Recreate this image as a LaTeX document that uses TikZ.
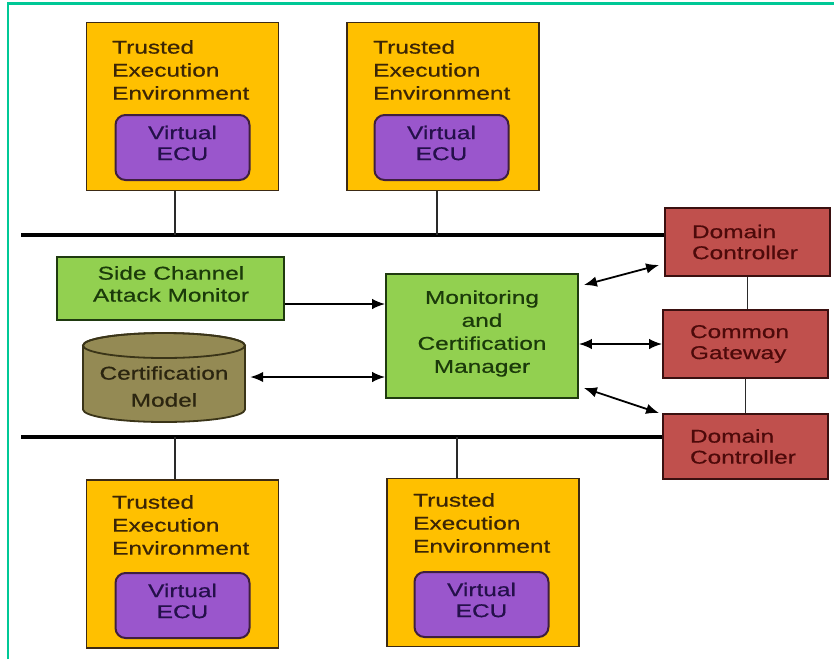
\documentclass[tikz,border=0pt]{standalone}
\usepackage{fontspec}
\setmainfont{Liberation Sans}[FakeStretch=1.32,FakeBold=0.6]
\usetikzlibrary{arrows.meta,calc}
\definecolor{teeFill}{HTML}{FFC000}
\definecolor{teeLine}{HTML}{3C2A14}
\definecolor{teeText}{HTML}{3B2506}
\definecolor{vFill}{HTML}{9A56CC}
\definecolor{vLine}{HTML}{3F1F3F}
\definecolor{vText}{HTML}{24104A}
\definecolor{gFill}{HTML}{92D050}
\definecolor{gLine}{HTML}{1F3A0F}
\definecolor{gText}{HTML}{1B3A0A}
\definecolor{rFill}{HTML}{C0504D}
\definecolor{rLine}{HTML}{3A1010}
\definecolor{rText}{HTML}{4D0A0A}
\definecolor{cFill}{HTML}{948A54}
\definecolor{cLine}{HTML}{3A3418}
\definecolor{cText}{HTML}{2B2510}
\definecolor{frameTeal}{HTML}{00C896}
\definecolor{linkGray}{HTML}{2A2A2A}
\begin{document}
\begin{tikzpicture}[x=1pt,y=-1pt,
  txt/.style={font=\fontsize{18.5}{23}\selectfont, inner sep=0pt},
  teebox/.style={draw=teeLine, fill=teeFill, line width=1.8pt, inner sep=0pt, minimum width=192pt, minimum height=168pt},
  vecu/.style={draw=vLine, fill=vFill, line width=2pt, rounded corners=10pt, inner sep=0pt, minimum width=134pt, minimum height=65pt},
  teetext/.style={txt, text=teeText, align=left, anchor=north west},
  vtext/.style={txt, font=\fontsize{18.5}{21}\selectfont, text=vText, align=center},
  redbox/.style={draw=rLine, fill=rFill, line width=1.8pt, txt, font=\fontsize{18.5}{21}\selectfont, text=rText, align=left, text width=111pt, inner xsep=27pt, inner ysep=0pt, minimum width=165pt, minimum height=68pt},
  greenbox/.style={draw=gLine, fill=gFill, line width=1.8pt, inner sep=0pt},
  gtext/.style={txt, text=gText, align=center},
  ctext/.style={txt, font=\fontsize{18.5}{27}\selectfont, text=cText, align=center},
  tipA/.tip={Latex[length=13pt,width=10.5pt]},
  arr/.style={-tipA, line width=1.8pt, draw=black},
  darr/.style={tipA-tipA, line width=1.8pt, draw=black},
  bus/.style={line width=3.4pt, draw=black},
  link/.style={line width=1.8pt, draw=linkGray}
]
\useasboundingbox (0,0) rectangle (834,659);
\fill[white] (0,0) rectangle (834,659);
\draw[frameTeal, line width=2.5pt] (7.8,659) -- (7.8,3.5) -- (834,3.5);

% trusted execution environments
\node[teebox] (tee1) at (182.5,106.5) {};
\node[teebox] (tee2) at (443,106.5) {};
\node[teebox] (tee3) at (182.5,564) {};
\node[teebox] (tee4) at (483,562.5) {};
\node[teetext] (t1) at (112,40) {Trusted\\Execution\\Environment};
\node[teetext] (t2) at (373,40) {Trusted\\Execution\\Environment};
\node[teetext] (t3) at (112,495) {Trusted\\Execution\\Environment};
\node[teetext] (t4) at (413,493) {Trusted\\Execution\\Environment};

% virtual ECUs
\node[vecu] (v1) at (182.5,147.5) {};
\node[vecu] (v2) at (441.5,147.5) {};
\node[vecu] (v3) at (182.5,605.5) {};
\node[vecu] (v4) at (481.5,604.5) {};
\node[vtext] (vt1) at ([yshift=4.5pt]v1.center) {Virtual\\ECU};
\node[vtext] (vt2) at ([yshift=4.5pt]v2.center) {Virtual\\ECU};
\node[vtext] (vt3) at ([yshift=4.5pt]v3.center) {Virtual\\ECU};
\node[vtext] (vt4) at ([yshift=4.5pt]v4.center) {Virtual\\ECU};

% red boxes
\node[redbox] (dc1) at (747.5,242) {Domain\\Controller};
\node[redbox] (cg) at (745.5,344) {Common\\Gateway};
\node[redbox, minimum height=65pt] (dc2) at (745.5,446.5) {Domain\\Controller};

% green boxes
\node[greenbox, minimum width=227pt, minimum height=63pt] (scam) at (170.5,288.5) {};
\node[gtext, font=\fontsize{18.5}{22}\selectfont] (scamt) at (171,284) {Side Channel\\Attack Monitor};
\node[greenbox, minimum width=192pt, minimum height=124pt] (mc) at (482,336) {};
\node[gtext] (mct) at (482,333.5) {Monitoring\\and\\Certification\\Manager};

% certification model cylinder
\path[fill=cFill, draw=cLine, line width=1.8pt] (83,345.5) -- (83,409.5)
  arc[start angle=180, end angle=360, x radius=81pt, y radius=12.5pt] -- (245,345.5)
  arc[start angle=0, end angle=180, x radius=81pt, y radius=12.5pt] -- cycle;
\draw[cLine, line width=1.8pt] (164,345.5) ellipse [x radius=81pt, y radius=12.5pt];
\node[inner sep=0pt, minimum width=162pt, minimum height=89pt] (cm) at (164,377.5) {};
\node[ctext] (cmt) at (164,386.5) {Certification\\Model};

% buses
\coordinate (b1) at (21,235);
\coordinate (b2) at (21,437);
\draw[bus] (b1) -- (b1 -| dc1.west);
\draw[bus] (b2) -- (b2 -| dc2.west);

% bus links
\coordinate (j1) at (175,235);
\coordinate (j2) at (437,235);
\coordinate (j3) at (175,437);
\coordinate (j4) at (457,437);
\draw[link] (j1) -- (j1 |- tee1.south);
\draw[link] (j2) -- (j2 |- tee2.south);
\draw[link] (j3) -- (j3 |- tee3.north);
\draw[link] (j4) -- (j4 |- tee4.north);
\draw[link] (dc1.south) -- (dc1.south |- cg.north);
\draw[link] (cg.south) -- (cg.south |- dc2.north);

% arrows
\coordinate (sa) at (0,304);
\coordinate (ca) at (0,377);
\draw[arr] (scam.east |- sa) -- (mc.west |- sa);
\draw[darr, shorten <=5pt] (cm.east |- ca) -- (mc.west |- ca);
\draw[darr] ($(mc.east)+(5,-51)$) -- ($(dc1.west)+(-5,23)$);
\draw[darr] (mc.east |- cg.west) -- (cg.west);
\draw[darr] ($(mc.east)+(5,52)$) -- ($(dc2.north west)+(-3,0)$);
\end{tikzpicture}
\end{document}
